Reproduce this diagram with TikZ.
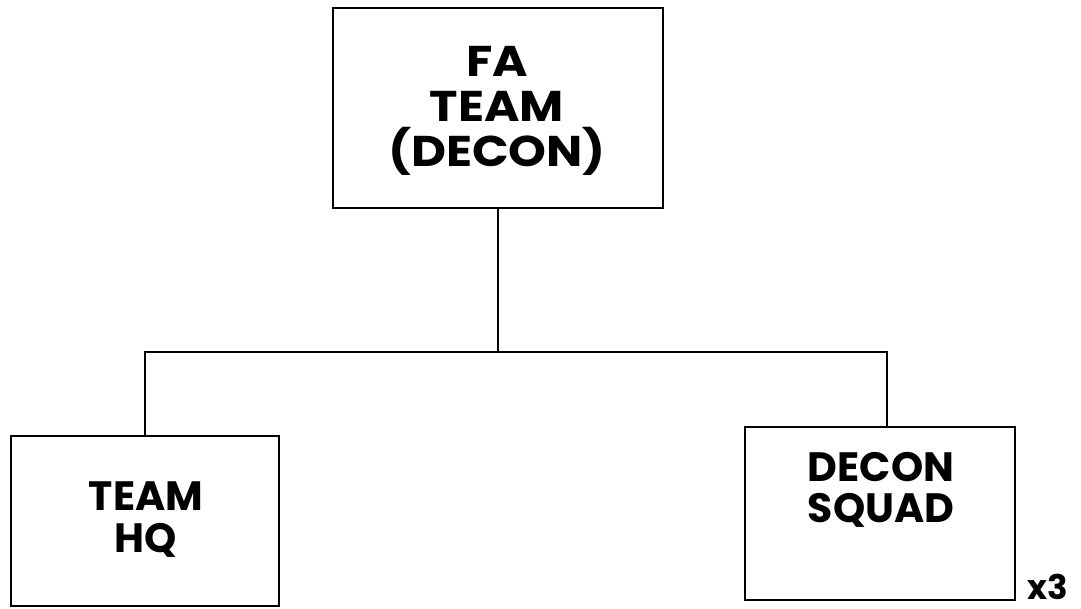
\documentclass[tikz,border=0pt]{standalone}
\usepackage{fontspec}
\newfontfamily\popfont[FakeStretch=1.12]{Poppins}
\newfontfamily\popfontn{Poppins}
\begin{document}
\begin{tikzpicture}[x=1pt,y=-1pt,
  box/.style={draw=black,line width=2.6pt,rectangle,inner sep=0pt},
  txt/.style={align=center,inner sep=0pt,font=\popfontn\bfseries\fontsize{41}{42}\selectfont},
  conn/.style={draw=black,line width=2.4pt}]
\useasboundingbox (0,0) rectangle (1081,608);
% boxes
\node[box,minimum width=330pt,minimum height=200pt] (fa) at (498,108) {};
\node[box,minimum width=268pt,minimum height=170pt] (hq) at (145,521) {};
\node[box,minimum width=270pt,minimum height=173pt] (sq) at (880,513.5) {};
% texts
\node[txt,font=\popfont\bfseries\fontsize{43}{45}\selectfont] (fatxt) at (497,111) {FA\\TEAM\\(DECON)};
\node[txt] (hqtxt) at (146,520) {TEAM\\HQ};
\node[txt,font=\popfontn\bfseries\fontsize{41}{41}\selectfont] (sqtxt) at (881,490) {DECON\\SQUAD};
\node[anchor=base west,inner sep=0pt,font=\popfontn\bfseries\fontsize{34}{36}\selectfont] (x3) at (1027,599) {x3};
% connectors
\coordinate (busL) at (145,352);
\coordinate (busR) at (887,352);
\draw[conn] (fa.south) -- (fa.south |- busL);
\draw[conn] (hq.north) -- (busL) -- (busR) -- (busR |- sq.north);
\end{tikzpicture}
\end{document}
